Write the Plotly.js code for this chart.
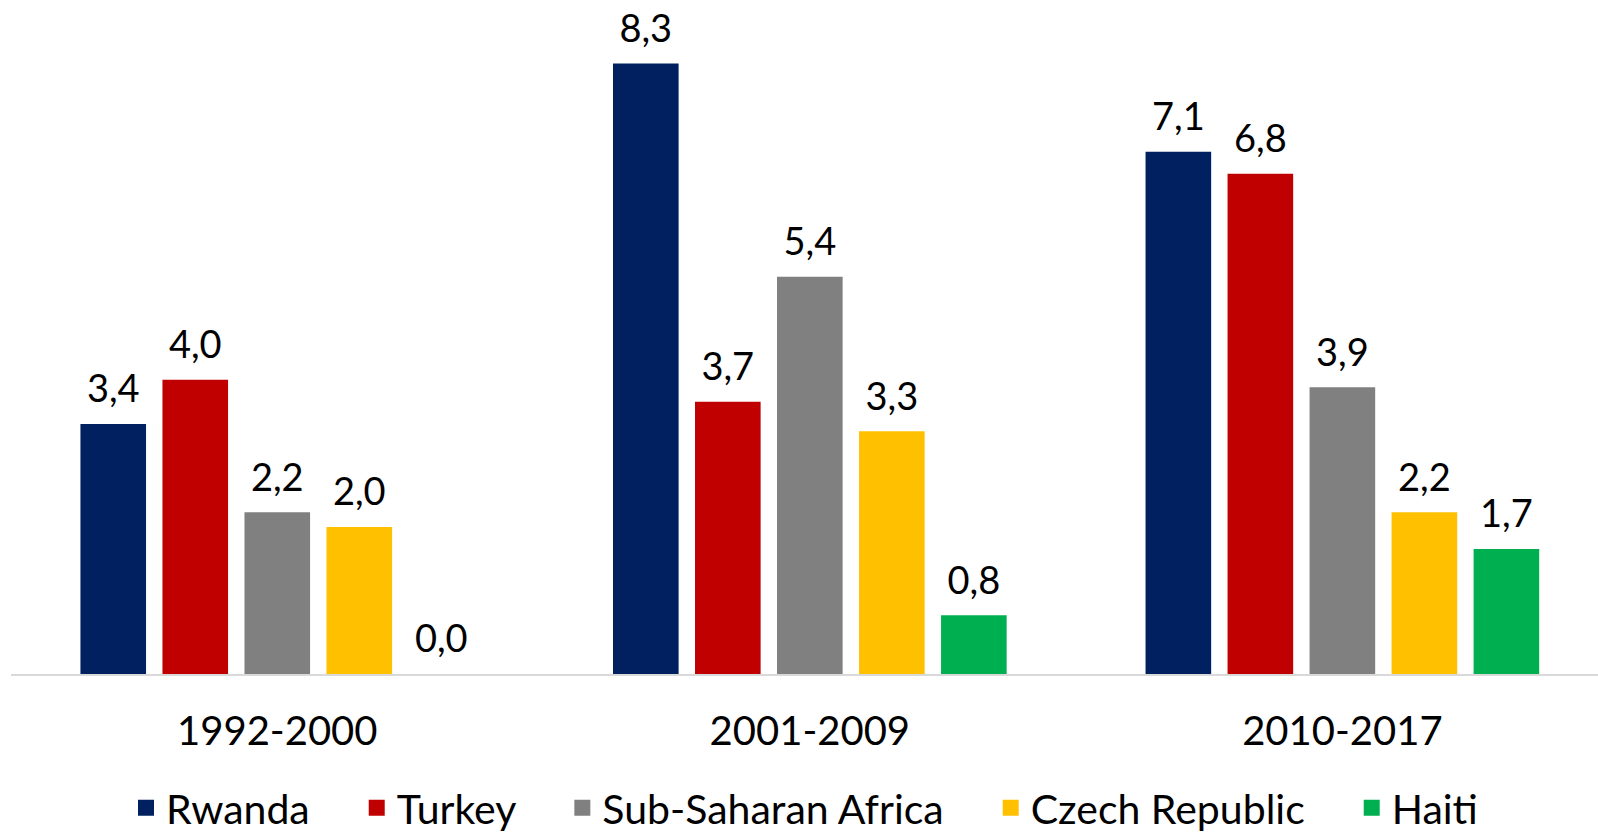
<!DOCTYPE html>
<html>
<head>
<meta charset="utf-8">
<script src="https://cdn.plot.ly/plotly-3.0.1.min.js"></script>
<style>html,body{margin:0;padding:0;background:#fff;}#chart{width:1598px;height:833px;}</style>
</head>
<body>
<div id="chart"></div>
<script>
const categories = ["1992-2000", "2001-2009", "2010-2017"];
const seriesNames = ["Rwanda", "Turkey", "Sub-Saharan Africa", "Czech Republic", "Haiti"];
const rwanda = [3.4, 8.3, 7.1];
const turkey = [4.0, 3.7, 6.8];
const subSaharanAfrica = [2.2, 5.4, 3.9];
const czechRepublic = [2.0, 3.3, 2.2];
const haiti = [0.0, 0.8, 1.7];
const colors = ["#002060", "#C00000", "#808080", "#FFC000", "#00B050"];

const values = [rwanda, turkey, subSaharanAfrica, czechRepublic, haiti];
const traces = values.map((v, i) => ({
  type: "bar",
  name: seriesNames[i],
  x: categories,
  y: v,
  showlegend: false,
  marker: {color: colors[i], line: {width: 0}},
  texttemplate: '<span style="font-size:38px">%{y:.1f}</span><br> ',
  textposition: "outside",
  constraintext: "none",
  cliponaxis: false,
  textfont: {family: "Lato, sans-serif", size: 12, color: "#000"},
  hoverinfo: "skip"
}));
// legend entries with square swatches
const pad = "\u00a0\u00a0\u00a0\u00a0";
seriesNames.forEach((n, i) => traces.push({
  type: "scatter", mode: "markers",
  name: i < seriesNames.length - 1 ? n + pad : n,
  x: [categories[0]], y: [null],
  marker: {symbol: "square", size: 24, color: colors[i]},
  showlegend: true, hoverinfo: "skip"
}));

const layout = {
  width: 1598, height: 833,
  margin: {l: 11, r: 0, t: 12, b: 159},
  paper_bgcolor: "#fff", plot_bgcolor: "#fff",
  separators: ",.",
  barmode: "group",
  bargap: 0.23,
  bargroupgap: 0.2,
  font: {family: "Lato, sans-serif", color: "#000"},
  xaxis: {
    type: "category",
    range: [-0.5, 2.48],
    showline: true, linecolor: "#d9d9d9", linewidth: 2,
    ticks: "", showgrid: false, zeroline: false,
    tickfont: {size: 40, color: "#000"},
    ticklabelstandoff: 21,
    automargin: false
  },
  yaxis: {
    range: [0, 9], visible: false, showgrid: false, zeroline: false
  },
  showlegend: true,
  legend: {
    orientation: "h", x: 0.5, xanchor: "center",
    yref: "container", y: 0.03, yanchor: "middle",
    font: {size: 41, color: "#000"},
    itemwidth: 30, tracegroupgap: 0, itemsizing: "trace"
  }
};

Plotly.newPlot("chart", traces, layout, {displayModeBar: false, staticPlot: true});
</script>
</body>
</html>
